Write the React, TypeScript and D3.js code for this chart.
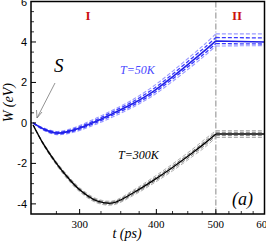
import * as d3 from "d3";

const times = [252, 262, 275, 287, 300, 320, 340, 367, 395, 425, 457, 480, 500, 600];

const blueMain = [0, -0.3, -0.5, -0.43, -0.25, 0.1, 0.47, 0.97, 1.55, 2.28, 3.05, 3.58, 4.05, 4.0];
const blueUp2 = [0, -0.25, -0.42, -0.33, -0.13, 0.25, 0.64, 1.17, 1.8, 2.55, 3.35, 3.9, 4.4, 4.4];
const blueUp1 = [0, -0.28, -0.46, -0.38, -0.19, 0.17, 0.56, 1.07, 1.67, 2.41, 3.2, 3.74, 4.22, 4.2];
const blueLo1 = [0, -0.33, -0.54, -0.48, -0.31, 0.03, 0.39, 0.88, 1.45, 2.17, 2.93, 3.45, 3.92, 3.9];
const blueLo2 = [0, -0.36, -0.58, -0.53, -0.37, -0.05, 0.3, 0.79, 1.35, 2.05, 2.8, 3.33, 3.8, 3.82];

const blackMain = [-0.1, -1.05, -2.0, -2.7, -3.3, -3.85, -3.95, -3.45, -2.85, -2.2, -1.5, -1.0, -0.55, -0.55];
const blackUp2 = [-0.1, -1.0, -1.92, -2.6, -3.2, -3.75, -3.85, -3.32, -2.7, -2.03, -1.32, -0.8, -0.38, -0.38];
const blackUp1 = [-0.1, -1.02, -1.96, -2.65, -3.25, -3.8, -3.9, -3.38, -2.78, -2.12, -1.42, -0.9, -0.46, -0.46];
const blackLo1 = [-0.1, -1.08, -2.04, -2.75, -3.35, -3.9, -4.0, -3.52, -2.93, -2.29, -1.59, -1.1, -0.63, -0.63];
const blackLo2 = [-0.1, -1.1, -2.08, -2.8, -3.4, -3.95, -4.05, -3.58, -3.0, -2.37, -1.68, -1.2, -0.72, -0.72];

const xMajor = [300, 400, 500, 600];
const xMinor = [275, 325, 350, 375, 425, 450, 475, 525, 550, 575];
const yMajor = [6, 4, 2, 0, -2, -4];
const yMinor = [5.5, 5, 4.5, 3.5, 3, 2.5, 1.5, 1, 0.5, -0.5, -1, -1.5, -2.5, -3, -3.5];

const W = 266;
const H = 242;
const x = d3.scaleLog().domain([250, 600]).range([31, 264.5]);
const y = d3.scaleLinear().domain([-4.5, 6]).range([214, 1.5]);

const serif = "'Liberation Serif', 'DejaVu Serif', serif";
const sans = "'Liberation Sans', Arial, sans-serif";

function paths(vals: number[]) {
  const pts: [number, number][] = times.map((t, i) => [x(t), y(vals[i])]);
  const ramp = pts.filter((_, i) => times[i] <= 500);
  const flat = pts.filter((_, i) => times[i] >= 500);
  const curve = d3.line().curve(d3.curveCatmullRom.alpha(0.5));
  const straight = d3.line();
  return (curve(ramp) ?? "") + (straight(flat) ?? "");
}

type S = { vals: number[]; color: string; width: number; dash?: string };

const series: S[] = [
  { vals: blackUp2, color: "#b0b0b0", width: 1, dash: "4,2" },
  { vals: blackLo2, color: "#b0b0b0", width: 1, dash: "4,2" },
  { vals: blackUp1, color: "#707070", width: 1, dash: "4,2" },
  { vals: blackLo1, color: "#707070", width: 1, dash: "4,2" },
  { vals: blackMain, color: "#000000", width: 1.4 },
  { vals: blueUp2, color: "#9a9aff", width: 1.1, dash: "4,2" },
  { vals: blueLo2, color: "#9a9aff", width: 1.1, dash: "4,2" },
  { vals: blueUp1, color: "#3a3aff", width: 1.3, dash: "4,2" },
  { vals: blueLo1, color: "#3a3aff", width: 1.3, dash: "4,2" },
  { vals: blueMain, color: "#1f1fe6", width: 1.6 },
];

export default function App() {
  const [x0, x1] = x.range();
  const [yb, yt] = y.range();
  return (
    <svg width={W} height={H} style={{ position: "absolute", left: 0, top: 0, background: "#fff" }}>
      {/* vertical dash-dot divider at t=500 */}
      <line x1={x(500)} x2={x(500)} y1={yt} y2={yb} stroke="#888" strokeWidth={1} strokeDasharray="6,2,1,2" />

      {series.map((s, i) => (
        <path key={i} d={paths(s.vals)} fill="none" stroke={s.color} strokeWidth={s.width} strokeDasharray={s.dash} />
      ))}

      {/* frame */}
      <rect x={x0} y={yt} width={x1 - x0} height={yb - yt} fill="none" stroke="#000" strokeWidth={1.5} />

      {/* x ticks */}
      {xMajor.map((t) => (
        <g key={t}>
          <line x1={x(t)} x2={x(t)} y1={yb} y2={yb - 5} stroke="#000" strokeWidth={1} />
          <text x={x(t)} y={228} textAnchor="middle" fontFamily={serif} fontSize={11}>
            {t}
          </text>
        </g>
      ))}
      {xMinor.map((t) => (
        <line key={t} x1={x(t)} x2={x(t)} y1={yb} y2={yb - 3} stroke="#000" strokeWidth={0.8} />
      ))}

      {/* y ticks */}
      {yMajor.map((v) => (
        <g key={v}>
          <line x1={x0} x2={x0 + 5} y1={y(v)} y2={y(v)} stroke="#000" strokeWidth={1} />
          <text x={27} y={y(v) + 4} textAnchor="end" fontFamily={sans} fontSize={11}>
            {v}
          </text>
        </g>
      ))}
      {yMinor.map((v) => (
        <line key={v} x1={x0} x2={x0 + 3} y1={y(v)} y2={y(v)} stroke="#000" strokeWidth={0.8} />
      ))}

      {/* axis titles */}
      <text x={127} y={238} textAnchor="middle" fontFamily={serif} fontStyle="italic" fontSize={14}>
        t (ps)
      </text>
      <text transform={`translate(13,${y(1)}) rotate(-90)`} textAnchor="middle" fontFamily={serif} fontStyle="italic" fontSize={14}>
        W (eV)
      </text>

      {/* region labels */}
      <text x={88} y={20} textAnchor="middle" fontFamily={serif} fontWeight="bold" fontSize={13} fill="#cc1111">
        I
      </text>
      <text x={237} y={20} textAnchor="middle" fontFamily={serif} fontWeight="bold" fontSize={13} fill="#cc1111">
        II
      </text>

      {/* curve labels */}
      <text x={120} y={74} fontFamily={serif} fontStyle="italic" fontSize={12} fill="#4a4aff">
        T=50K
      </text>
      <text x={118} y={159} fontFamily={serif} fontStyle="italic" fontSize={12} fill="#000">
        T=300K
      </text>
      <text x={232} y={205} fontFamily={serif} fontStyle="italic" fontSize={18}>
        (a)
      </text>

      {/* S arrow */}
      <text x={54} y={72} fontFamily={serif} fontStyle="italic" fontSize={19}>
        S
      </text>
      <line x1={55} y1={83} x2={37} y2={118} stroke="#777" strokeWidth={0.8} />
      <polyline points="36.5,110 37,118 42,112" fill="none" stroke="#777" strokeWidth={0.8} />
    </svg>
  );
}
